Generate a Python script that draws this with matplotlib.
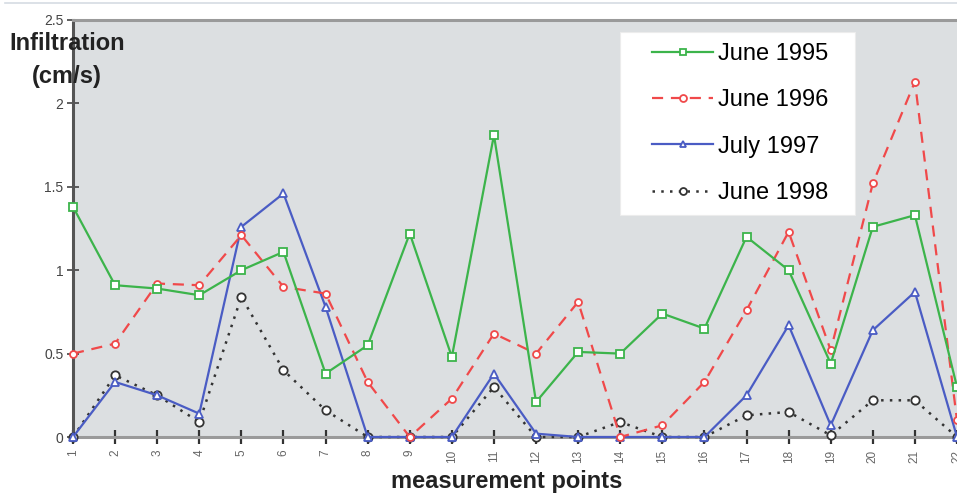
import matplotlib
matplotlib.use("Agg")
import matplotlib.pyplot as plt
from matplotlib.lines import Line2D
from matplotlib.patches import Rectangle

points = list(range(1, 23))
june_1995 = [1.38, 0.91, 0.89, 0.85, 1.00, 1.11, 0.38, 0.55, 1.22, 0.48, 1.81,
             0.21, 0.51, 0.50, 0.74, 0.65, 1.20, 1.00, 0.44, 1.26, 1.33, 0.30]
june_1996 = [0.50, 0.56, 0.92, 0.91, 1.21, 0.90, 0.86, 0.33, 0.00, 0.23, 0.62,
             0.50, 0.81, 0.00, 0.07, 0.33, 0.76, 1.23, 0.52, 1.52, 2.13, 0.10]
july_1997 = [0.00, 0.33, 0.25, 0.14, 1.26, 1.46, 0.78, 0.00, 0.00, 0.00, 0.38,
             0.02, 0.00, 0.00, 0.00, 0.00, 0.25, 0.67, 0.07, 0.64, 0.87, 0.00]
june_1998 = [0.00, 0.37, 0.25, 0.09, 0.84, 0.40, 0.16, 0.00, 0.00, 0.00, 0.30,
             0.00, 0.00, 0.09, 0.00, 0.00, 0.13, 0.15, 0.01, 0.22, 0.22, 0.00]
yticks = [0, 0.5, 1, 1.5, 2, 2.5]
ytick_labels = ["0", "0.5", "1", "1.5", "2", "2.5"]

plt.rcParams["font.family"] = ["Liberation Sans", "DejaVu Sans"]

W, H = 957, 494
fig = plt.figure(figsize=(W / 100, H / 100), dpi=100)
fig.patch.set_facecolor("white")
ax = fig.add_axes([73 / W, 57 / H, (W - 73) / W, (437 - 20) / H])
ax.set_facecolor("#dcdfe1")

series = [
    (june_1995, "June 1995", "#3cb44b", "-", "s", 1.6, 6),
    (june_1996, "June 1996", "#f0494a", (0, (5, 3.5)), "o", 1.6, 5),
    (july_1997, "July 1997", "#4a5cc4", "-", "^", 1.6, 6),
    (june_1998, "June 1998", "#333333", (0, (1, 2.5)), "o", 1.8, 6),
]
handles = []
for vals, label, color, ls, mk, lw, ms in series[::-1]:
    ln, = ax.plot(points, vals, color=color, linestyle=ls, linewidth=lw,
                  marker=mk, markersize=ms, markerfacecolor="white",
                  markeredgecolor=color, markeredgewidth=1.3,
                  clip_on=False, zorder=3, label=label)
    handles.append(ln)
handles = handles[::-1]

ax.set_xlim(1, 22)
ax.set_ylim(0, 2.5)
ax.set_yticks(yticks)
ax.set_yticklabels(ytick_labels, fontsize=10, color="#444444")
ax.set_xticks(points)
ax.set_xticklabels([str(p) for p in points], rotation=90, fontsize=8.5,
                   color="#666666")
ax.tick_params(axis="y", direction="inout", length=8, width=1.2,
               color="#444444", pad=3)
ax.tick_params(axis="x", direction="inout", length=10, width=1.6,
               color="#333333", pad=4)

for side in ("left", "bottom", "top"):
    ax.spines[side].set_linewidth(2.2)
ax.spines["left"].set_color("#555555")
ax.spines["bottom"].set_color("#9a9a9a")
ax.spines["top"].set_color("#9a9a9a")
ax.spines["right"].set_visible(False)
ax.spines["left"].set_zorder(2)

# white legend panel
px = lambda x: (x - 73) / (W - 73)
py = lambda y: (437 - y) / (437 - 20)
ax.add_patch(Rectangle((px(620), py(215)), px(855) - px(620), py(32) - py(215),
                       transform=ax.transAxes, facecolor="white",
                       edgecolor="#ececec", linewidth=0.8, zorder=4))
leg = ax.legend(handles=handles, loc="upper left",
                bbox_to_anchor=(px(652), py(43)),
                fontsize=17, frameon=False, handlelength=2.6,
                labelspacing=1.03, borderpad=0, handletextpad=0.2,
                borderaxespad=0)
leg.set_zorder(5)
for h in leg.legend_handles:
    h.set_markersize(5)

fig.text(67 / W, 1 - 43 / H, "Infiltration", ha="center", va="center",
         fontsize=17, fontweight="bold", color="#222222")
fig.text(67 / W, 1 - 77 / H, "(cm/s)", ha="center", va="center",
         fontsize=17, fontweight="bold", color="#222222")
fig.text(507 / W, 1 - 481 / H, "measurement points", ha="center",
         va="center", fontsize=17, fontweight="bold", color="#222222")

fig.add_artist(Line2D([5 / W, 1], [1 - 3 / H, 1 - 3 / H],
                      color="#d5dce3", linewidth=1.2))

fig.savefig("out.png", dpi=100)
